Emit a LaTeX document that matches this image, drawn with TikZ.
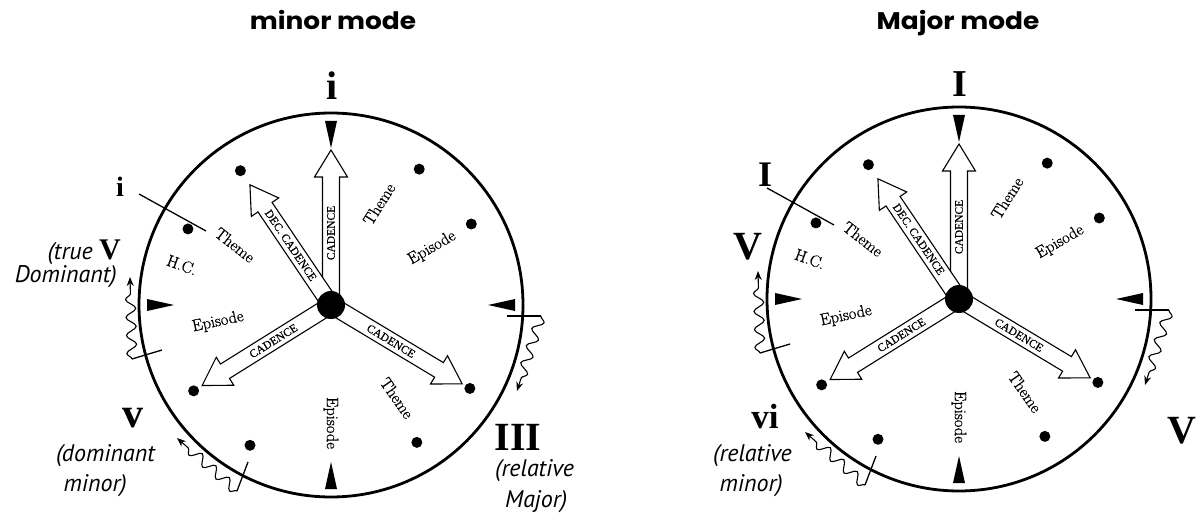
\documentclass[tikz,border=0pt]{standalone}
\usepackage{fontspec}
\usetikzlibrary{decorations.pathmorphing,arrows.meta}
\setmainfont{Latin Modern Roman}[FakeBold=0.8]
\newfontfamily\titlefont{Poppins}
\newfontfamily\numfont{Liberation Serif}
\newfontfamily\capfont{Liberation Serif}[FakeBold=0.5]
\newfontfamily\hfont{PT Sans}
\tikzset{
  rim/.style={line width=2.8pt},
  tickline/.style={line width=1.3pt},
  wave/.style={line width=1.1pt, decorate,
    decoration={snake, amplitude=5pt, segment length=18pt, post length=8pt},
    -{Stealth[length=9pt,width=7pt]}},
  blockarrow/.style={draw, fill=white, line width=1.1pt, line join=miter},
  dotnode/.style={circle, fill, inner sep=0pt, minimum size=11pt},
  hubnode/.style={circle, fill, inner sep=0pt, minimum size=28pt},
  inlabel/.style={font=\fontsize{16.5}{16.5}\selectfont, inner sep=0pt},
  cadlabel/.style={font=\capfont\fontsize{11.5}{11.5}\selectfont, inner sep=0pt},
  itlabel/.style={font=\hfont\itshape\fontsize{24}{26}\selectfont, inner sep=0pt},
  numlabel/.style={font=\numfont\bfseries\fontsize{40}{40}\selectfont, inner sep=0pt},
  titlelabel/.style={font=\titlefont\bfseries\fontsize{24}{26}\selectfont, inner sep=0pt},
}
\newcommand\modebody{%
  \draw[rim] (0,0) circle (192);
  \foreach \a/\l in {90/155,124/145,212/152,329/153}{
    \draw[blockarrow, rotate=\a] (0,-8.5) -- (\l-27,-8.5) -- (\l-27,-16.5) -- (\l,0)
      -- (\l-27,16.5) -- (\l-27,8.5) -- (0,8.5) -- cycle;}
  \node[cadlabel, rotate=90] (c1) at (90:72) {CADENCE};
  \node[cadlabel, rotate=-56] (c2) at (124:72) {DEC. CADENCE};
  \node[cadlabel, rotate=32] (c3) at (212:68) {CADENCE};
  \node[cadlabel, rotate=-31] (c4) at (329:70) {CADENCE};
  \node[hubnode] (hub) at (0,0) {};
  \foreach \a [count=\i] in {30,57,124,152,212,240,302,329}
    \node[dotnode] (d\i) at (\a:162) {};
  \foreach \a in {0,90,180,270}
    \fill[rotate=\a] (184,-6) -- (184,6) -- (157,0) -- cycle;
  \node[inlabel, rotate=-38] (th1) at (-96,60) {Theme};
  \node[inlabel, rotate=-20] (hc) at (-149,40) {H.C.};
  \node[inlabel, rotate=12] (ep1) at (-113,-17) {Episode};
  \node[inlabel, rotate=-90] (ep2) at (0,-118) {Episode};
  \node[inlabel, rotate=-55] (th2) at (66,-93) {Theme};
  \node[inlabel, rotate=58] (th3) at (48,101) {Theme};
  \node[inlabel, rotate=30] (ep3) at (101,57) {Episode};
  \coordinate (ta1) at (-192,111); \coordinate (ta2) at (-125,74);
  \draw[tickline] (ta1) -- (ta2);
  \coordinate (tb1) at (-199,-54); \coordinate (tb2) at (-169,-45);
  \draw[tickline] (tb1) -- (tb2);
  \coordinate (wb) at (-201,28);
  \draw[wave] (tb1) -- (wb);
  \coordinate (tc1) at (176,-11); \coordinate (tc2) at (210,-11);
  \draw[tickline] (tc1) -- (tc2);
  \coordinate (wc) at (186,-86);
  \draw[wave] (tc2) -- (wc);
  \coordinate (td1) at (-83,-157); \coordinate (td2) at (-94,-186);
  \draw[tickline] (td1) -- (td2);
  \coordinate (wd) at (-154,-133);
  \draw[wave] (td2) -- (wd);
}
\begin{document}
\begin{tikzpicture}[x=1pt,y=1pt]
\fill[white] (0,0) rectangle (1198,-518);
\useasboundingbox (0,0) rectangle (1198,-518);
% titles
\node[titlelabel, anchor=base] (t1) at (333,-30) {\scalebox{1.1}[1]{minor mode}};
\node[titlelabel, anchor=base] (t2) at (958,-30) {\scalebox{1.1}[1]{Major mode}};
% left circle
\begin{scope}[shift={(331,-305)}, name prefix=L-]
\modebody
\end{scope}
\node[numlabel, anchor=base] (L-top) at (332,-100) {i};
\node[numlabel, anchor=base, font=\numfont\bfseries\fontsize{28}{28}\selectfont] (L-i) at (120,-197) {i};
\node[itlabel, anchor=base east] (L-true) at (121,-260) {(true {\numfont\bfseries\upshape\fontsize{30}{30}\selectfont V}};
\node[itlabel, anchor=base east] (L-dom) at (117,-283) {Dominant)};
\node[numlabel, anchor=base, font=\numfont\bfseries\fontsize{42}{42}\selectfont] (L-v) at (133,-427) {v};
\node[itlabel, anchor=base east] (L-dm1) at (155,-461) {(dominant};
\node[itlabel, anchor=base east] (L-dm2) at (127,-491) {minor)};
\node[numlabel, anchor=base] (L-III) at (518,-450) {III};
\node[itlabel, anchor=base west] (L-rm1) at (495,-476) {(relative};
\node[itlabel, anchor=base west] (L-rm2) at (505,-507) {Major)};
% right circle
\begin{scope}[shift={(959,-299)}, name prefix=R-]
\modebody
\end{scope}
\node[numlabel, anchor=base, font=\numfont\bfseries\fontsize{38}{38}\selectfont] (R-top) at (960,-97) {I};
\node[numlabel, anchor=base, font=\numfont\bfseries\fontsize{36}{36}\selectfont] (R-I) at (765,-187) {I};
\node[numlabel, anchor=base] (R-V) at (748,-260) {V};
\node[numlabel, anchor=base, font=\numfont\bfseries\fontsize{35}{35}\selectfont] (R-vi) at (765,-428) {vi};
\node[itlabel, anchor=base east] (R-rm1) at (792,-461) {(relative};
\node[itlabel, anchor=base east] (R-rm2) at (783,-491) {minor)};
\node[numlabel, anchor=base] (R-V2) at (1182,-443) {V};
\end{tikzpicture}
\end{document}
